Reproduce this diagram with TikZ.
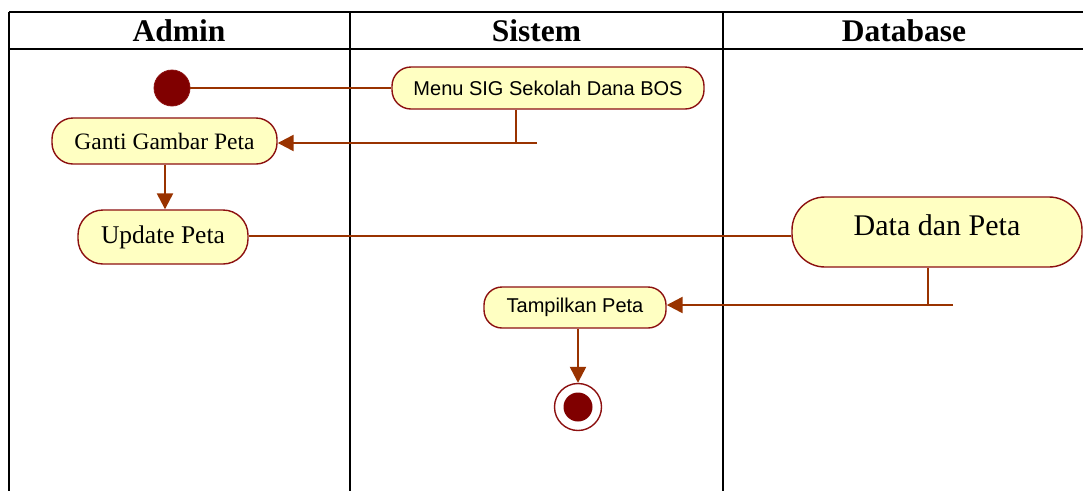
\documentclass[tikz,border=0pt]{standalone}
\usepackage{fontspec}
\setmainfont{Liberation Serif}
\newfontfamily\uisans{Liberation Sans}
\usetikzlibrary{arrows.meta}
\definecolor{actfill}{RGB}{255,255,194}
\definecolor{actborder}{RGB}{140,16,16}
\definecolor{flow}{RGB}{153,51,0}
\definecolor{dot}{RGB}{128,0,0}
\tikzset{
  act/.style={draw=actborder, fill=actfill, line width=1.4pt, inner sep=0pt, align=center},
  flowline/.style={draw=flow, line width=2.4pt},
  thinflow/.style={draw=flow, line width=1.5pt},
  flowarrow/.style={flowline, -{Triangle[length=16pt,width=16pt]}},
  grid/.style={draw=black, line width=2pt},
  hdr/.style={anchor=base, inner sep=0pt, font=\fontsize{31.5}{36}\selectfont\bfseries},
}
\begin{document}
\begin{tikzpicture}[x=1pt,y=-1pt]
\useasboundingbox (0,0) rectangle (1083,491);
% swimlane grid
\coordinate (tl) at (9,12);
\coordinate (tr) at (1083,12);
\coordinate (hl) at (9,49);
\coordinate (hr) at (1083,49);
\coordinate (bl) at (9,491);
\coordinate (c1t) at (350,12);
\coordinate (c1b) at (350,491);
\coordinate (c2t) at (723,12);
\coordinate (c2b) at (723,491);
\draw[grid] (tl) -- (tr);
\draw[grid] (hl) -- (hr);
\draw[grid] (tl) -- (bl);
\draw[grid] (c1t) -- (c1b);
\draw[grid] (c2t) -- (c2b);
\node[hdr] (hAdmin) at (179,41) {Admin};
\node[hdr] (hSistem) at (536.5,41) {Sistem};
\node[hdr] (hDb) at (904,41) {Database};
% nodes
\node[circle, fill=dot, draw=actborder, line width=0.8pt, minimum size=36pt, inner sep=0pt] (start) at (172,88) {};
\node[act, minimum width=312pt, minimum height=42pt, rounded corners=19pt,
      font=\uisans\fontsize{20}{24}\selectfont] (menu) at (548,88) {Menu SIG Sekolah Dana BOS};
\node[act, minimum width=225pt, minimum height=46pt, rounded corners=21pt,
      font=\fontsize{23.5}{28}\selectfont] (ganti) at (164.5,141) {Ganti Gambar Peta};
\node[act, minimum width=170pt, minimum height=54pt, rounded corners=25pt,
      font=\fontsize{25.5}{30}\selectfont] (update) at (163,237) {Update Peta};
\node[act, minimum width=290pt, rounded corners=33pt, text height=38pt, text depth=32pt,
      font=\fontsize{30}{36}\selectfont] (data) at (937,232) {Data dan Peta};
\node[act, minimum width=182pt, minimum height=41pt, rounded corners=18pt,
      font=\uisans\fontsize{20}{24}\selectfont] (tampil) at (575,307.5) {Tampilkan Peta};
\node[circle, draw=actborder, fill=white, line width=1.4pt, minimum size=47pt, inner sep=0pt] (end) at (578,407) {};
\node[circle, fill=dot, minimum size=29pt, inner sep=0pt] (endin) at (end.center) {};
% connectors
\coordinate (m1) at (516,143);
\coordinate (bar1) at (537,143);
\coordinate (d1) at (928,305);
\coordinate (bar2) at (953,305);
\draw[flowline] (start) -- (menu);
\draw[thinflow] (menu.south -| m1) -- (m1);
\draw[flowarrow] (bar1) -- (ganti.east |- bar1);
\draw[flowarrow] (ganti.south -| 165,0) -- (update.north -| 165,0);
\draw[flowline] (update.east |- 0,236) -- (data.west |- 0,236);
\draw[thinflow] (data.south -| d1) -- (d1);
\draw[flowarrow] (bar2) -- (tampil.east |- bar2);
\draw[flowarrow] (tampil.south -| end) -- (end.north);
\end{tikzpicture}
\end{document}
